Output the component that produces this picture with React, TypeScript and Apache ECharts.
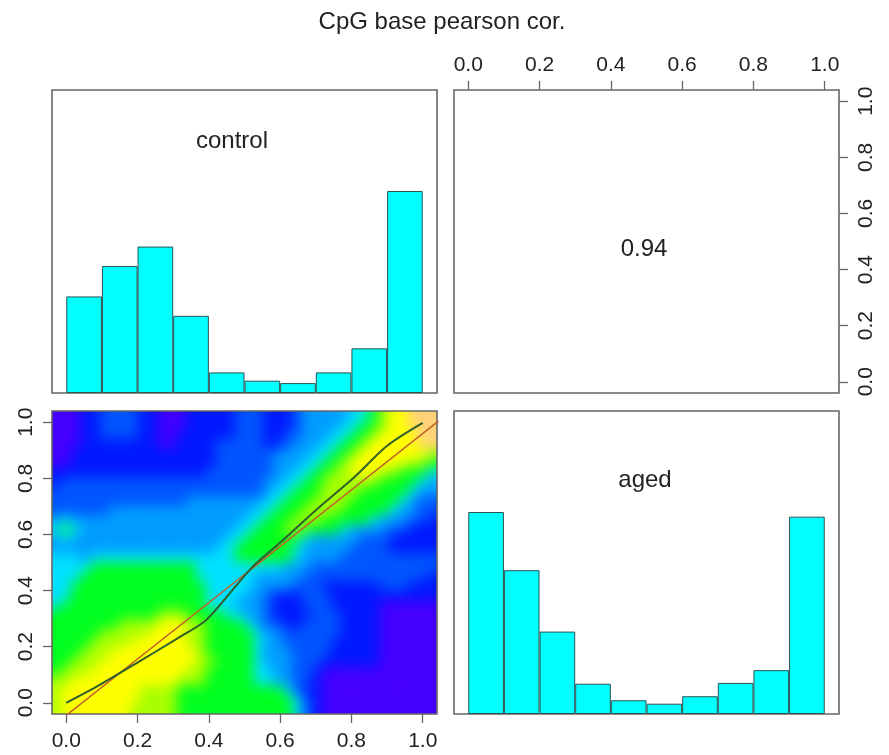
import React, { useEffect, useRef } from "react";
import * as echarts from "echarts";

// ---------- data ----------
const chartTitle = "CpG base pearson cor.";
const panelNames = ["control", "aged"];
const correlationLabel = "0.94";
const binLabels = ["0.0", "0.1", "0.2", "0.3", "0.4", "0.5", "0.6", "0.7", "0.8", "0.9"];
// histogram bar heights (relative to tallest bar)
const controlHeights = [0.478, 0.629, 0.725, 0.382, 0.102, 0.061, 0.049, 0.102, 0.221, 1.0];
const agedHeights = [1.0, 0.712, 0.408, 0.15, 0.068, 0.051, 0.088, 0.154, 0.217, 0.977];
// lowess curve (control on x, aged on y)
const lowessX = [0.0, 0.094, 0.202, 0.31, 0.385, 0.422, 0.469, 0.526, 0.601, 0.704, 0.808, 0.901, 1.0];
const lowessY = [0.0, 0.064, 0.145, 0.228, 0.287, 0.335, 0.406, 0.489, 0.572, 0.691, 0.804, 0.917, 0.998];
// regression line end points
const regX = [0.0, 1.044];
const regY = [-0.045, 1.004];
// smoothed density levels (0 = lowest, 8 = highest), rows top -> bottom, 40 columns
const densityRows = [
  "00011 22221 10001 11112 22111 23333 34456 77888",
  "00011 22221 10001 11112 22111 23333 44556 77888",
  "00011 22221 10011 11112 22112 23334 45567 77788",
  "00011 11111 10011 11222 22112 33344 55677 77788",
  "00111 11111 11111 11222 22233 33445 56777 77776",
  "00111 11111 11111 11222 22233 34455 67777 77665",
  "11111 11111 11111 12222 22233 44556 67776 65554",
  "12222 22222 22222 22222 22334 45566 66665 55543",
  "22222 22222 22222 22222 22344 55566 66555 55433",
  "22222 22222 22223 33333 33445 55666 65555 54322",
  "22222 23333 33333 33333 34455 56666 55555 43322",
  "34333 33333 33333 33333 44555 66655 55543 33221",
  "45433 33333 33333 33334 45556 65555 43333 22111",
  "34333 33333 33333 33344 55555 54333 33222 11111",
  "33333 33333 33333 33445 55555 43333 32222 11111",
  "44434 44444 44444 44445 55555 43333 22222 22222",
  "44445 55555 55555 44444 44443 33222 22222 22222",
  "44455 55555 55555 44444 43333 32222 22222 22221",
  "44555 55555 55555 54444 43333 22211 11112 22111",
  "44555 55555 55555 54444 33211 12221 11111 11111",
  "45555 55555 55555 54443 33211 12221 11110 00000",
  "55555 55555 56665 55544 33211 11222 11110 00000",
  "55555 55666 67776 65555 43221 12222 11110 00000",
  "55555 66666 77776 65555 54332 22222 11110 00000",
  "55556 66677 77776 65555 54332 22221 11110 00000",
  "55566 67777 77777 65555 54333 22221 11110 00000",
  "55666 77777 77777 66555 54333 22211 11110 00000",
  "56667 77777 77776 65555 54433 22100 00000 00000",
  "66777 77777 77766 65555 54433 22100 00000 00000",
  "67777 77776 66655 55555 55554 21100 00000 00000",
  "67777 77776 66655 55555 55555 42100 00000 00000",
  "67777 77766 66655 55555 55555 42100 00000 00000",
];
const densityColors = ["#4400ff", "#0018ff", "#0055ff", "#009cff", "#00e0ff", "#00ff20", "#a8ff00", "#ffff00", "#ffd27a"];

// ---------- layout / style ----------
const FONT = "'Liberation Sans', Arial, Helvetica, sans-serif";
const W = 385;
const H = 303;
const PX = (W * 0.04) / 1.08;
const PY = (H * 0.04) / 1.08;
const TL = { left: 52, top: 90 };
const TR = { left: 454, top: 90 };
const BL = { left: 52, top: 411 };
const BR = { left: 454, top: 411 };
const BORDER = "#666";
const TICK = "#666";
const TEXT = "#222";

const boxGrid = (p: any) => ({
  left: p.left, top: p.top, width: W, height: H, show: true,
  borderColor: BORDER, borderWidth: 1.6, backgroundColor: "transparent",
});
const innerXGrid = (p: any) => ({ left: p.left + PX, top: p.top, width: W - 2 * PX, height: H });
const innerXYGrid = (p: any) => ({ left: p.left + PX, top: p.top + PY, width: W - 2 * PX, height: H - 2 * PY });
const hidden = (gi: number, min: number, max: number) => ({ type: "value", gridIndex: gi, min, max, show: false });
const hiddenCat = (gi: number) => ({ type: "category", gridIndex: gi, data: binLabels, show: false });
const tickAxis = (gi: number, position: string, offset: number, rotate: number, margin: number) => ({
  type: "value", gridIndex: gi, position, offset, min: 0, max: 1, interval: 0.2,
  axisLine: { show: false, onZero: false },
  axisTick: { show: true, inside: false, length: 9, lineStyle: { color: TICK, width: 1.3 } },
  splitLine: { show: false },
  axisLabel: {
    show: true, fontSize: 21, color: TEXT, fontFamily: FONT, margin, rotate,
    formatter: (v: number) => v.toFixed(1),
  },
});
const label = (text: string, x: number, y: number, size: number) => ({
  type: "text", x, y, z: 100,
  style: {
    text, fill: TEXT, fontSize: size, fontFamily: FONT,
    align: "center", verticalAlign: "middle", textAlign: "center", textVerticalAlign: "middle",
  },
});

export default function App() {
  const heatRef = useRef<HTMLDivElement>(null);
  const mainRef = useRef<HTMLDivElement>(null);

  useEffect(() => {
    const heat = echarts.init(heatRef.current!, null, { renderer: "svg" });
    const main = echarts.init(mainRef.current!, null, { renderer: "svg" });

    const rows = densityRows.map((r) => r.replace(/ /g, ""));
    const nCols = rows[0].length;
    const heatData: number[][] = [];
    rows.forEach((row, r) => {
      for (let c = 0; c < row.length; c++) heatData.push([c, rows.length - 1 - r, Number(row[c])]);
    });

    heat.setOption({
      animation: false,
      grid: { left: 0, top: 0, right: 0, bottom: 0 },
      xAxis: { type: "category", data: Array.from({ length: nCols }, (_, i) => String(i)), show: false },
      yAxis: { type: "category", data: rows.map((_, i) => String(i)), show: false },
      visualMap: { type: "continuous", min: 0, max: 8, show: false, dimension: 2, inRange: { color: densityColors } },
      series: [{ type: "heatmap", data: heatData, progressive: 0, itemStyle: { borderWidth: 0 }, emphasis: { disabled: true } }],
    });

    main.setOption({
      animation: false,
      grid: [
        boxGrid(TL), innerXGrid(TL),
        boxGrid(TR), innerXYGrid(TR),
        boxGrid(BL), innerXYGrid(BL),
        boxGrid(BR), innerXGrid(BR),
      ],
      xAxis: [
        hidden(0, -0.04, 1.04), hiddenCat(1),
        hidden(2, -0.04, 1.04), tickAxis(3, "top", PY, 0, 16),
        hidden(4, -0.04, 1.04), tickAxis(5, "bottom", PY, 0, 15),
        hidden(6, -0.04, 1.04), hiddenCat(7),
      ],
      yAxis: [
        hidden(0, 0, 1.5), hidden(1, 0, 1.5),
        hidden(2, -0.04, 1.04), tickAxis(3, "right", PX, 90, 15),
        hidden(4, -0.04, 1.04), tickAxis(5, "left", PX, 90, 17),
        hidden(6, 0, 1.5), hidden(7, 0, 1.5),
      ],
      series: [
        {
          type: "bar", name: panelNames[0], xAxisIndex: 1, yAxisIndex: 1, data: controlHeights,
          barCategoryGap: "0%", itemStyle: { color: "#00ffff", borderColor: "#2d5353", borderWidth: 1 },
        },
        {
          type: "bar", name: panelNames[1], xAxisIndex: 7, yAxisIndex: 7, data: agedHeights,
          barCategoryGap: "0%", itemStyle: { color: "#00ffff", borderColor: "#2d5353", borderWidth: 1 },
        },
        {
          type: "line", xAxisIndex: 4, yAxisIndex: 4, symbol: "none", clip: true,
          data: regX.map((x, i) => [x, regY[i]]),
          lineStyle: { color: "#c0622a", width: 1.5 },
        },
        {
          type: "line", xAxisIndex: 4, yAxisIndex: 4, symbol: "none", smooth: 0.3, clip: true,
          data: lowessX.map((x, i) => [x, lowessY[i]]),
          lineStyle: { color: "#2f5f2a", width: 2 },
        },
      ],
      graphic: [
        label(chartTitle, 442, 20, 24),
        label(panelNames[0], 232, 139, 24),
        label(panelNames[1], 645, 478, 24),
        label(correlationLabel, 644, 247, 24),
      ],
    });

    return () => {
      heat.dispose();
      main.dispose();
    };
  }, []);

  return (
    <>
      <svg width="0" height="0" style={{ position: "absolute" }}>
        <defs>
          <filter id="smoothDensity" x="0" y="0" width="100%" height="100%" colorInterpolationFilters="sRGB">
            <feGaussianBlur stdDeviation="7" />
            <feComponentTransfer>
              <feFuncA type="discrete" tableValues="1" />
            </feComponentTransfer>
          </filter>
        </defs>
      </svg>
      <div
        ref={heatRef}
        style={{ position: "fixed", left: BL.left, top: BL.top, width: W, height: H, filter: "url(#smoothDensity)" }}
      />
      <div ref={mainRef} style={{ position: "fixed", left: 0, top: 0, width: 889, height: 755 }} />
    </>
  );
}
